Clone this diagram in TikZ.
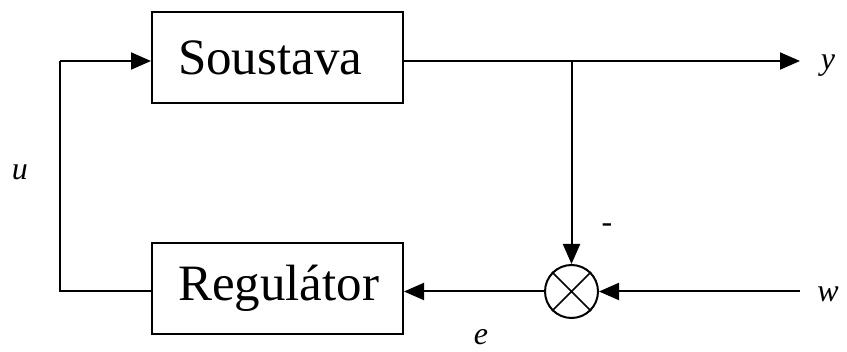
\documentclass[tikz,border=0pt]{standalone}
\usepackage{fontspec}
\setmainfont{Liberation Serif}
\usetikzlibrary{arrows.meta}
\begin{document}
\begin{tikzpicture}[x=1pt,y=-1pt,
  blk/.style={draw,line width=2pt,minimum width=251pt,minimum height=91pt,inner ysep=0pt,inner xsep=26pt,text width=199pt,align=left,font=\fontsize{51}{54}\selectfont},
  con/.style={line width=2pt,-{Triangle[length=20pt,width=17pt]}},
  ln/.style={line width=2pt},
  lab/.style={font=\fontsize{32}{34}\selectfont\itshape,inner sep=0pt}]
\useasboundingbox (0,0) rectangle (847,352);
\node[blk] (sys) at (277.5,57.5) {Soustava};
\node[blk] (reg) at (277.5,288.5) {Regulátor};
\node[draw,circle,line width=2pt,minimum size=53pt,inner sep=0pt] (sum) at (571.5,291.5) {};
\draw[line width=1.6pt] (sum.north west) -- (sum.south east) (sum.north east) -- (sum.south west);
\coordinate (yend) at (800,61);
\coordinate (wend) at (800,291.5);
\coordinate (br) at (571.5,61);
\coordinate (lt) at (60,61);
\coordinate (lb) at (60,291);
\draw[con] (sys.east |- yend) -- (yend);
\draw[con] (br) -- (sum.north);
\draw[con] (wend) -- (sum.east);
\draw[con] (sum.west) -- (reg.east |- sum.west);
\draw[ln] (reg.west |- lb) -- (lb) -- (lt);
\draw[con] (lt) -- (sys.west |- lt);
\node[lab] (ylab) at (828,66) {y};
\node[lab] (wlab) at (828,294) {w};
\node[lab] (ulab) at (20,172) {u};
\node[lab] (elab) at (481,337) {e};
\node[font=\fontsize{32}{34}\selectfont,inner sep=0pt] (minus) at (607,228) {-};
\end{tikzpicture}
\end{document}
